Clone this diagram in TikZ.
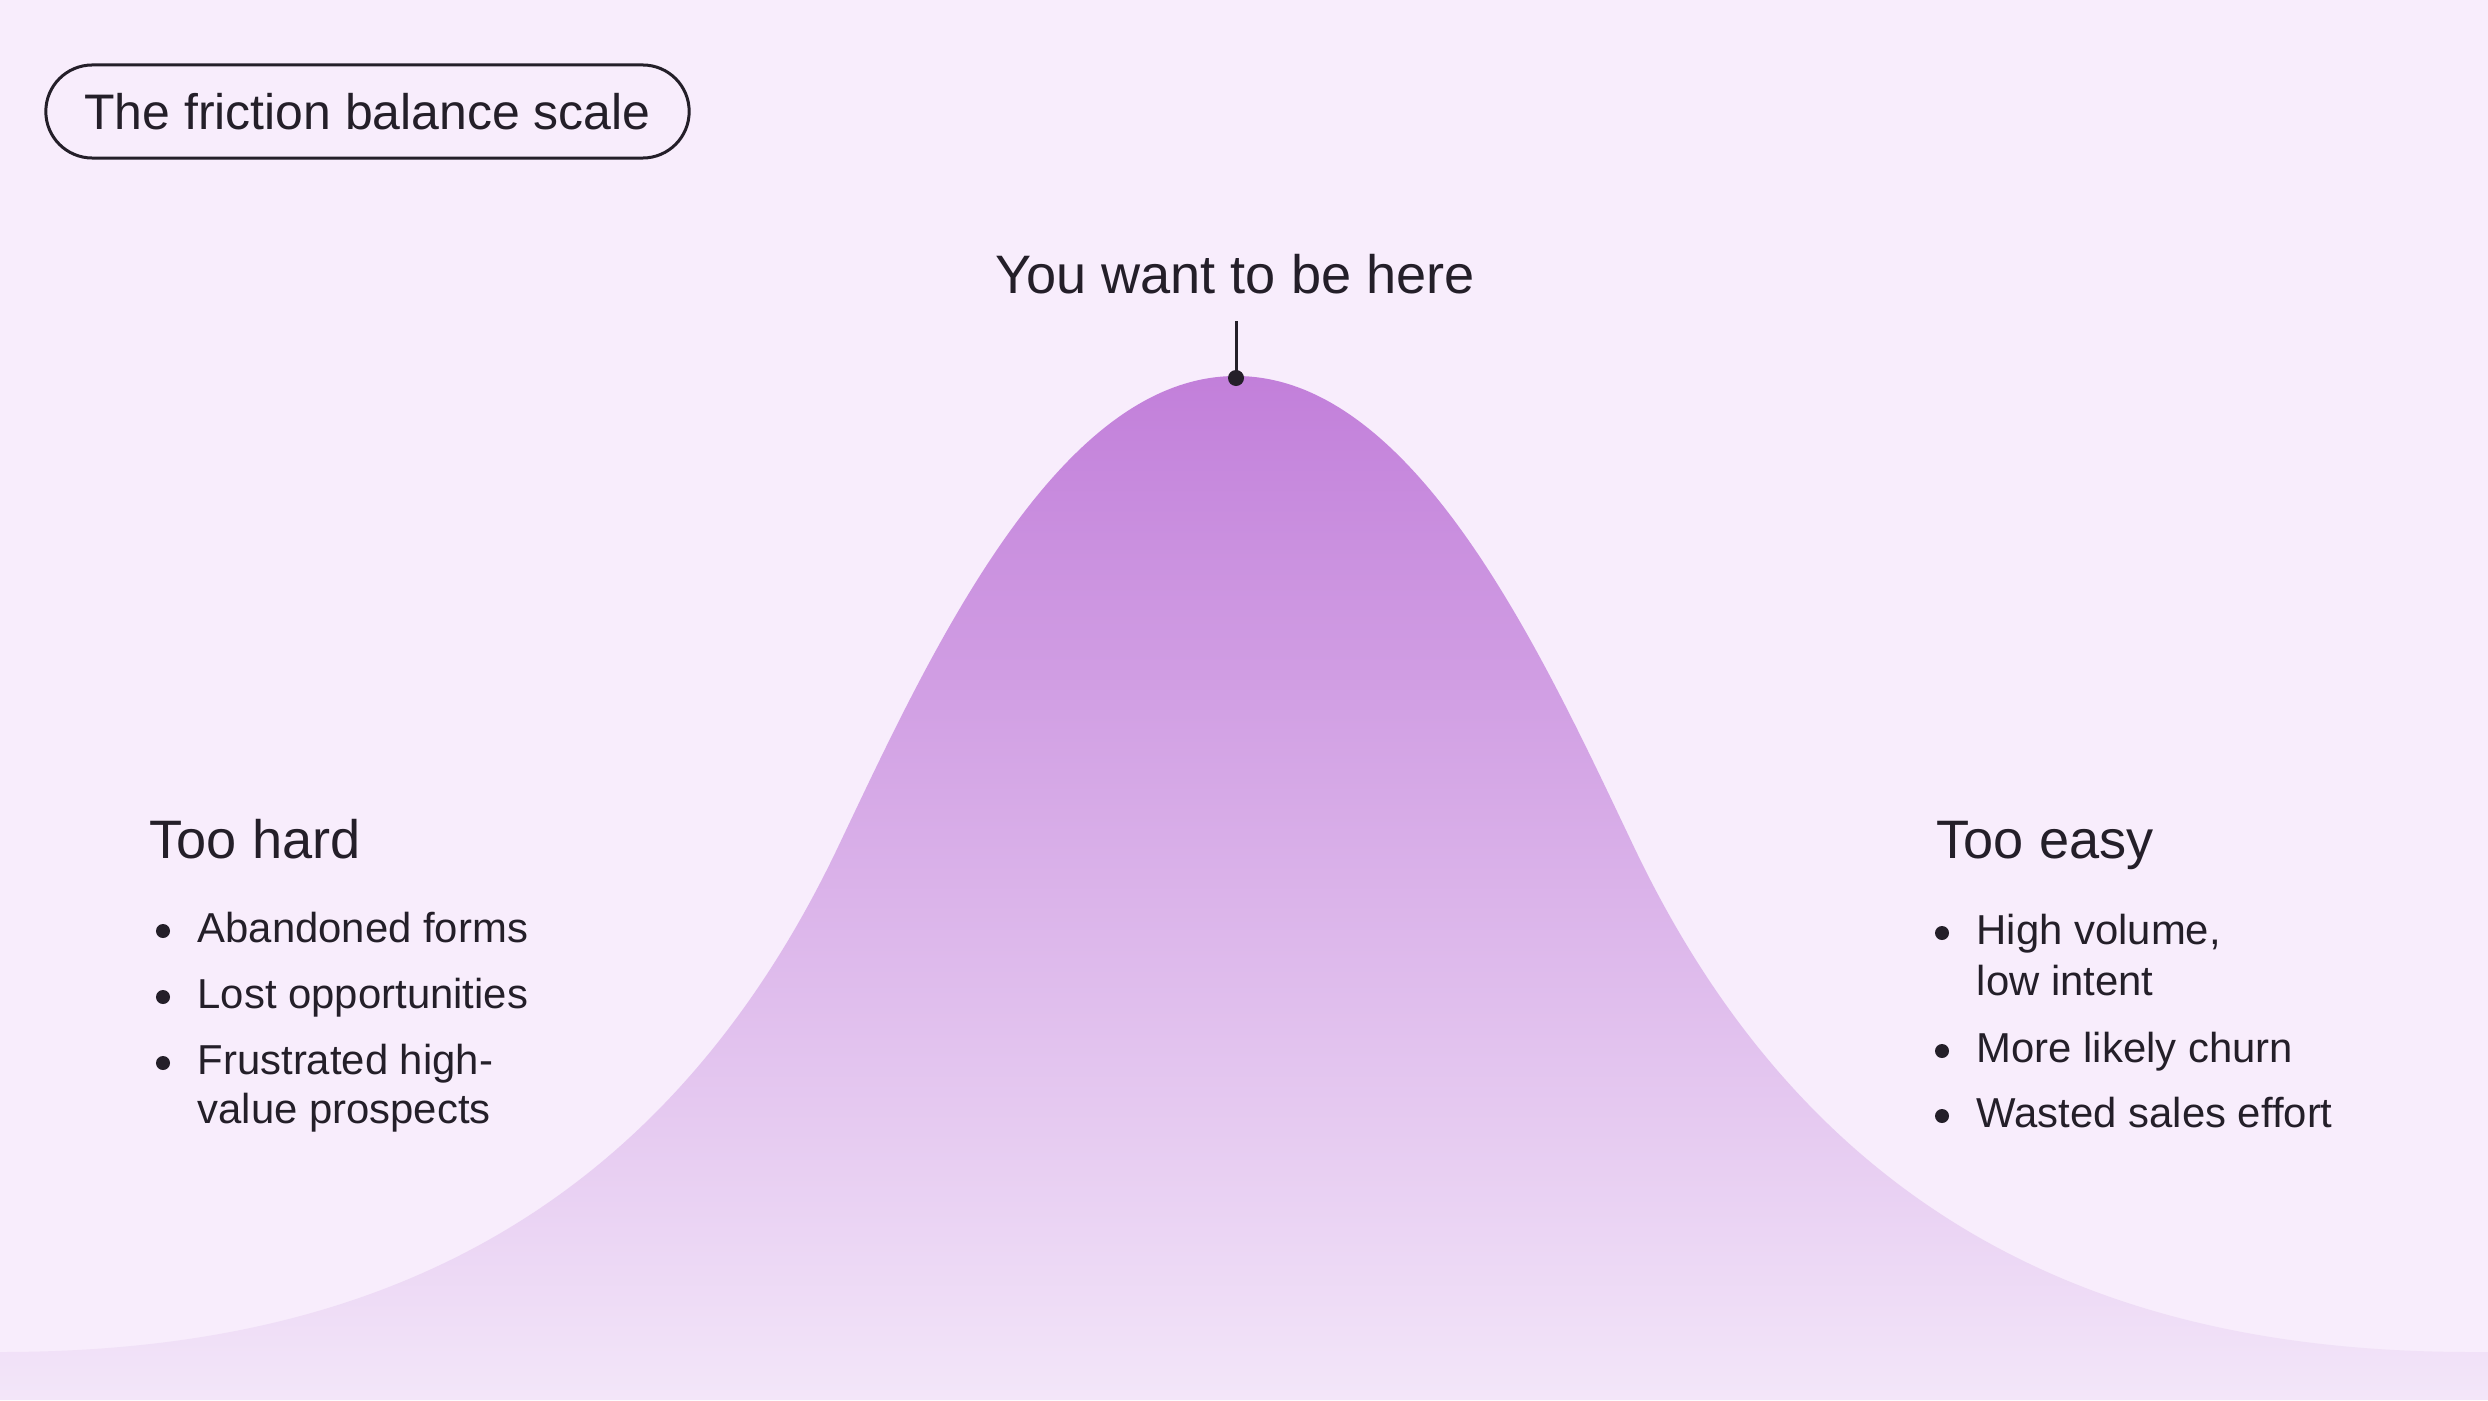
\documentclass[tikz,border=0pt]{standalone}
\usepackage{fontspec}
\setmainfont{Liberation Sans}
\definecolor{bg}{HTML}{F8EDFC}
\definecolor{ink}{HTML}{241F29}
\definecolor{ctop}{HTML}{C27FDA}
\definecolor{cbot}{HTML}{F3E6F9}
\tikzset{
  pill/.style={draw=ink, line width=0.03cm, rounded corners=0.465cm, minimum height=0.93cm, minimum width=6.43cm, inner sep=0pt, text=ink, font=\fontsize{14.2pt}{17pt}\selectfont},
  heading/.style={anchor=base west, inner sep=0pt, text=ink, font=\fontsize{15.4pt}{18pt}\selectfont},
  item/.style={anchor=base west, inner sep=0pt, text=ink, font=\fontsize{11.9pt}{14pt}\selectfont},
  bulletdot/.style={circle, fill=ink, inner sep=0pt, minimum size=0.14cm},
  peakdot/.style={circle, fill=ink, inner sep=0pt, minimum size=0.16cm},
  leader/.style={draw=ink, line width=0.03cm}
}
\begin{document}
\begin{tikzpicture}[x=0.01cm, y=-0.01cm]
\useasboundingbox (0,0) rectangle (2488,1400);
\fill[bg] (0,0) rectangle (2488,1400);
% bell curve
\shade[top color=ctop, bottom color=cbot]
  (-20,1400) -- (-20,1352) -- (0,1352)
  .. controls (300,1352) and (638,1267) .. (838,847)
  .. controls (928,658) and (1056,376) .. (1236,376)
  .. controls (1416,376) and (1544,658) .. (1634,847)
  .. controls (1834,1267) and (2172,1352) .. (2472,1352)
  -- (2508,1352) -- (2508,1400) -- cycle;
% title pill
\node[pill] (title) at (367.5,111.5) {The friction balance scale};
% peak label
\node[heading, anchor=base] (here) at (1235,294) {You want to be here};
\coordinate (ltop) at (1236,321);
\node[peakdot] (peak) at (1236,378) {};
\draw[leader] (ltop) -- (peak.center);
% left
\node[heading] (hard) at (149,858) {Too hard};
\node[bulletdot] (lb1) at (163,931) {};
\node[item] (l1) at (197,942) {Abandoned forms};
\node[bulletdot] (lb2) at (163,997) {};
\node[item] (l2) at (197,1008) {Lost opportunities};
\node[bulletdot] (lb3) at (163,1063) {};
\node[item] (l3a) at (197,1074) {Frustrated high-};
\node[item] (l3b) at (197,1123) {value prospects};
% right
\node[heading] (easy) at (1936,858) {Too easy};
\node[bulletdot] (rb1) at (1942,933) {};
\node[item] (r1a) at (1976,944) {High volume,};
\node[item] (r1b) at (1976,995) {low intent};
\node[bulletdot] (rb2) at (1942,1051) {};
\node[item] (r2) at (1976,1062) {More likely churn};
\node[bulletdot] (rb3) at (1942,1116) {};
\node[item] (r3) at (1976,1127) {Wasted sales effort};
\end{tikzpicture}
\end{document}
